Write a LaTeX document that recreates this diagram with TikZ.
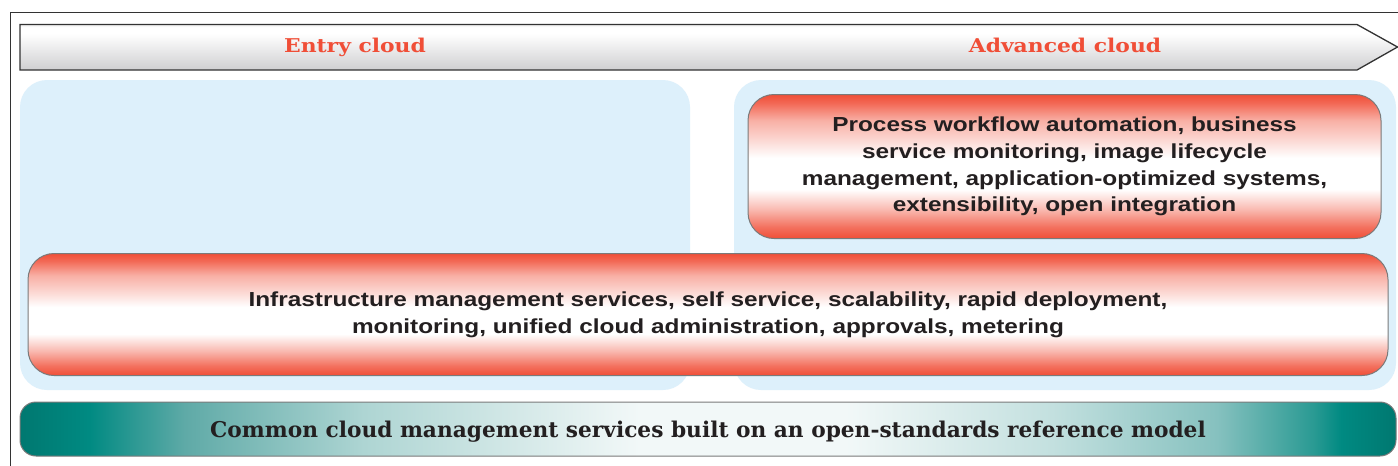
\documentclass[tikz,border=0pt]{standalone}
\usepackage{fontspec}
\newfontfamily\slab{DejaVu Serif}
\newfontfamily\slabhdr[FakeStretch=1.15]{DejaVu Serif}
\newfontfamily\hsans[FakeStretch=1.2]{Liberation Sans}
\usetikzlibrary{shadings}
\definecolor{ored}{HTML}{F04E37}
\definecolor{panelblue}{HTML}{DDF0FB}
\definecolor{boxgrey}{HTML}{7A7A7A}
\definecolor{ink}{HTML}{231F20}
\definecolor{frame}{HTML}{333333}
\definecolor{teal0}{HTML}{007870}
\definecolor{teal1}{HTML}{008A82}
\definecolor{teal2}{HTML}{5FAAA7}
\definecolor{teal3}{HTML}{AED5D3}
\definecolor{teal4}{HTML}{F2F8F8}
\definecolor{teal5}{HTML}{C3E0DF}
\definecolor{teal6}{HTML}{86C1BF}
\definecolor{teal7}{HTML}{2A9A93}
\definecolor{hdrtop}{HTML}{FAFAFA}
\definecolor{hdrbot}{HTML}{CFCFD1}
\pgfdeclareverticalshading{orangeband}{100bp}{color(0bp)=(ored); color(25bp)=(ored); color(29bp)=(ored!80!white); color(35bp)=(ored!40!white); color(42bp)=(white); color(53bp)=(white); color(60bp)=(ored!25!white); color(66bp)=(ored!45!white); color(72bp)=(ored!85!white); color(75bp)=(ored); color(100bp)=(ored)}
\pgfdeclarehorizontalshading{tealband}{100bp}{color(0bp)=(teal0); color(25bp)=(teal0); color(27.5bp)=(teal1); color(31bp)=(teal2); color(37.5bp)=(teal3); color(47.5bp)=(teal4); color(55bp)=(teal4); color(62.5bp)=(teal5); color(68.5bp)=(teal6); color(72bp)=(teal7); color(73bp)=(teal1); color(75bp)=(teal0); color(100bp)=(teal0)}
\pgfdeclareverticalshading{greyband}{100bp}{color(0bp)=(hdrbot); color(25bp)=(hdrbot); color(65bp)=(white); color(72bp)=(white); color(75bp)=(hdrtop!95!black); color(100bp)=(hdrtop!95!black)}
\tikzset{
  panel/.style={fill=panelblue, draw=none, rounded corners=27pt, inner sep=0pt, outer sep=0pt},
  obox/.style={shading=orangeband, draw=boxgrey, line width=1pt, rounded corners=26pt, inner sep=0pt, outer sep=0pt, align=center, text=ink, font=\hsans\bfseries\fontsize{20.3}{26.6}\selectfont},
  tbox/.style={shading=tealband, draw=boxgrey, line width=1pt, rounded corners=16pt, inner sep=0pt, outer sep=0pt},
  btext/.style={text=ink, font=\slab\bfseries\fontsize{21.7}{26}\selectfont, inner sep=0pt},
  hdrtext/.style={text=ored, font=\slabhdr\bfseries\fontsize{19}{22}\selectfont, inner sep=0pt, anchor=base},
}
\begin{document}
\begin{tikzpicture}[x=1pt,y=-1pt]
\useasboundingbox[fill=white] (0,0) rectangle (1398,466);
% outer frame
\draw[frame, line width=1pt] (10,466) -- (10,12) -- (1398,12);
% header arrow
\path[shading=greyband, draw=frame, line width=1.3pt] (20,24.5) -- (1357,24.5) -- (1397.5,47) -- (1357,70) -- (20,70) -- cycle;
\node[hdrtext] (entry) at (355,52.5) {Entry cloud};
\node[hdrtext] (adv) at (1065,52.5) {Advanced cloud};
% panels
\node[panel, minimum width=670pt, minimum height=310pt] (lpanel) at (355,235) {};
\node[panel, minimum width=662pt, minimum height=310pt] (rpanel) at (1065,235) {};
% orange boxes
\node[obox, minimum width=633pt, minimum height=144pt] (adbox) at (1064.5,166.5) {Process workflow automation, business\\service monitoring, image lifecycle\\management, application-optimized systems,\\extensibility, open integration};
\node[obox, minimum width=1360pt, minimum height=122pt] (infra) at (708,314.5) {Infrastructure management services, self service, scalability, rapid deployment,\\monitoring, unified cloud administration, approvals, metering};
% teal bar
\node[tbox, minimum width=1376pt, minimum height=54pt] (common) at (708,429) {};
\node[btext, anchor=base] (commontext) at (708,437) {Common cloud management services built on an open-standards reference model};
\end{tikzpicture}
\end{document}
